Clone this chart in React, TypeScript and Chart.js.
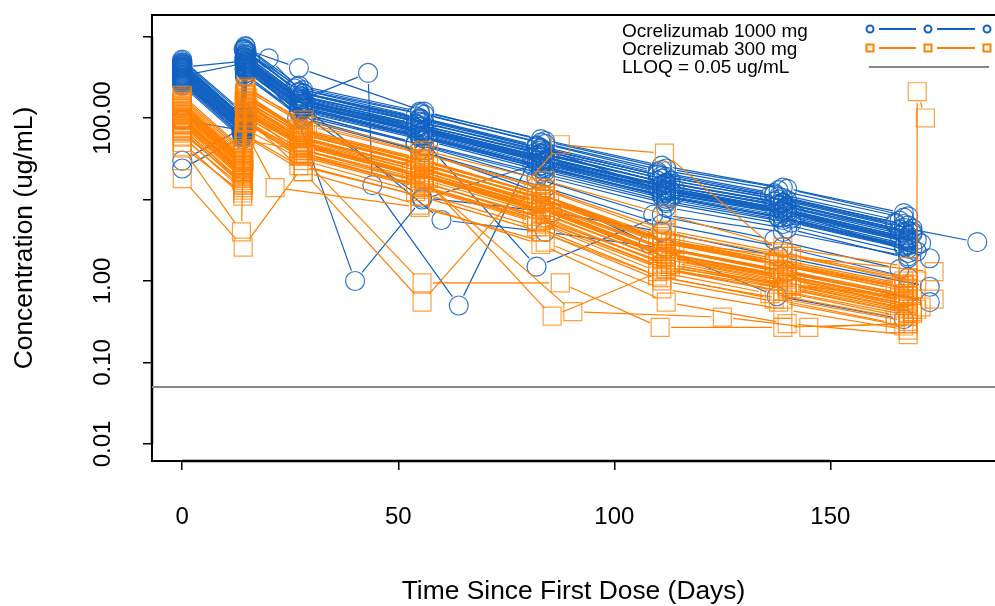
import React, { useEffect, useRef } from 'react';
import { Chart, registerables } from 'chart.js';

Chart.register(...registerables);

type Pt = [number, number]; // [day, concentration ug/mL]

// Ocrelizumab 1000 mg – individual subject profiles
const dose1000Subjects: Pt[][] = [
  [[0, 420], [13.8, 95], [14.6, 600], [27, 190], [55, 90], [83, 40], [111, 18], [138, 10], [167, 4.5], [184, 3.0]],
  [[0, 350], [14, 80], [14.8, 480], [28, 150], [54, 70], [82, 30], [112, 13], [139, 7.5], [168, 3.2]],
  [[0, 480], [13.5, 110], [14.2, 700], [26, 230], [56, 110], [84, 48], [110, 22], [137, 12], [166, 5.5]],
  [[0, 300], [14.2, 70], [15, 420], [28, 130], [55, 60], [81, 26], [113, 11], [140, 6.2], [168, 2.8]],
  [[0, 390], [14, 88], [14.5, 540], [27.5, 170], [53, 80], [83, 34], [111, 15], [138, 8.5], [169, 3.8]],
  [[0, 270], [13.9, 62], [14.7, 380], [29, 115], [57, 52], [84, 22], [112, 9.5], [141, 5.2], [170, 2.3]],
  [[0, 450], [14.1, 100], [14.9, 650], [27, 210], [55, 100], [82, 44], [110, 20], [136, 11], [165, 5]],
  [[0, 330], [14, 75], [14.3, 500], [28.5, 155], [56, 72], [85, 31], [114, 13.5], [140, 7.6], [168, 3.4]],
  [[0, 410], [14, 92], [14.6, 560], [27, 175], [54, 85], [83, 37], [112, 16], [139, 9], [167, 4]],
  [[0, 360], [14.3, 85], [15.2, 470], [28, 145], [55, 66], [82, 28], [111, 12], [138, 6.8], [168, 3]],
  [[0, 290], [13.7, 68], [14.4, 400], [27, 125], [56, 56], [84, 24], [113, 10.5], [141, 5.8], [169, 2.5]],
  [[0, 440], [14, 98], [14.8, 620], [28, 200], [55, 95], [83, 42], [112, 19], [139, 10.5], [168, 4.8]],
  [[0, 370], [14.2, 82], [14.6, 510], [27.5, 160], [54, 76], [81, 33], [110, 14], [137, 8], [166, 3.6]],
  [[0, 320], [14, 72], [14.5, 450], [28, 140], [57, 64], [85, 27], [114, 11.5], [142, 6.4], [171, 2.9]],
  [[0, 500], [13.9, 115], [14.7, 740], [26.5, 240], [55, 115], [83, 50], [111, 23], [138, 13], [167, 6]],
  [[0, 340], [14.1, 78], [14.9, 490], [28, 150], [56, 68], [84, 29], [112, 12.5], [140, 7], [168, 3.1]],
  [[0, 400], [14, 90], [14.4, 550], [27, 168], [55, 78], [82, 35], [111, 15], [138, 8.8], [167, 3.9]],
  [[0, 280], [14, 65], [15.1, 360], [28.5, 110], [54, 50], [83, 21], [112, 9], [139, 5], [168, 2.2]],
  [[0, 430], [14.2, 96], [14.6, 590], [27.5, 185], [55, 88], [84, 39], [113, 17], [140, 9.8], [169, 4.4]],
  [[0, 310], [13.8, 70], [14.5, 440], [28, 135], [56, 62], [83, 26], [111, 11], [138, 6.1], [167, 2.7]],
  [[0, 380], [14, 86], [14.8, 530], [27, 165], [55, 82], [83, 36], [112, 16], [139, 9.2], [168, 4.1]],
  [[0, 460], [14.1, 105], [14.3, 680], [28, 220], [54, 105], [82, 46], [110, 21], [137, 11.5], [165, 5.2]],
  [[0, 30], [14, 75], [14.5, 480], [28, 150], [55, 70], [83, 30], [112, 13], [140, 7], [168, 3.3]],
  [[0, 24], [14.2, 60], [15, 400], [27, 130], [56, 60], [84, 25], [111, 11], [138, 6], [167, 2.6]],
  [[0, 420], [14.6, 500], [28, 160], [55, 78], [83, 33], [112, 15], [140, 8], [168, 3.6]],
  [[0, 330], [20, 540], [28, 200], [56, 88], [84, 37], [112, 16], [139, 9], [169, 4]],
  [[0, 380], [14, 85], [14.7, 520], [26.6, 100], [40, 1.0], [55.5, 10], [83, 28], [112, 12], [139, 7], [168, 3]],
  [[0, 400], [14, 90], [14.5, 560], [28, 170], [43, 357], [44, 15], [64, 0.5], [82, 45], [111, 13], [139, 7.2], [168, 3.2]],
  [[0, 310], [14, 72], [14.6, 430], [28, 135], [55, 60], [82, 1.5], [111, 6.5], [139, 4], [168, 2]],
  [[0, 280], [14, 60], [14.5, 350], [28, 100], [55, 40], [83, 12], [108, 2.9], [137.6, 0.65], [167, 0.34]],
  [[0, 300], [14, 68], [14.6, 400], [27, 120], [55.5, 10.5], [85.6, 7], [111, 4], [138, 2], [173, 0.85]],
  [[0, 340], [14, 75], [14.8, 450], [28, 140], [60, 5.6], [84, 4], [112, 2.5], [140, 1.3], [173, 0.55]],
  [[0, 260], [14, 58], [14.6, 330], [28, 95], [56, 38], [84, 14], [111, 5], [139, 2.6], [168, 1.1]],
  [[0, 300], [14.2, 66], [14.8, 390], [27, 118], [54, 48], [82, 18], [109, 6.5], [137, 3.2], [166, 1.4]],
  [[0, 450], [14, 100], [14.5, 700], [27, 410], [56, 120], [84, 52], [112, 24], [140, 13.5], [168, 6.2]],
  [[0, 95], [14, 70], [14.6, 420], [28, 130], [55, 60], [83, 26], [112, 11], [139, 6], [168, 2.7]],
  [[0, 360], [14, 82], [14.7, 470], [27, 150], [55, 72], [84, 31], [112, 14], [138, 7.8], [173, 1.9]],
  [[0, 520], [14, 120], [14.6, 760], [27, 250], [55, 120], [83, 55], [111, 26], [139, 14], [167, 6.8]],
  [[0, 250], [14, 55], [14.5, 320], [28, 105], [56, 46], [84, 19], [112, 8], [140, 4.4], [168, 1.9]],
  [[0, 410], [14, 88], [14.8, 580], [27.5, 180], [54, 84], [82, 38], [110, 17], [137, 9.5], [166, 4.3]],
  [[0, 330], [14, 76], [14.5, 470], [28, 150], [56, 70], [84, 30], [113, 12.8], [141, 7.2], [170, 3.2]],
  [[0, 470], [14, 104], [14.6, 660], [27, 205], [55, 98], [83, 43], [111, 19.5], [138, 10.8], [167, 5.0]],
  [[0, 290], [14, 66], [14.7, 410], [28, 128], [55, 58], [83, 24], [112, 10.2], [139, 5.6], [168, 2.5]],
];

// Ocrelizumab 300 mg – individual subject profiles
const dose300Subjects: Pt[][] = [
  [[0, 120], [14, 26], [14.6, 150], [27, 58], [55, 24], [82, 9], [111, 2.5], [138, 1.3], [167, 0.65]],
  [[0, 95], [13.8, 22], [14.4, 120], [28, 48], [54, 20], [83, 7.5], [112, 2], [139, 1.1], [168, 0.55]],
  [[0, 150], [14.1, 32], [14.8, 190], [27.5, 70], [56, 30], [84, 11], [110, 3.2], [137, 1.7], [166, 0.85]],
  [[0, 80], [14, 18], [15, 100], [28, 40], [55, 17], [81, 6.2], [113, 1.6], [140, 0.85], [169, 0.42]],
  [[0, 110], [14.2, 24], [14.5, 135], [27, 52], [53, 22], [83, 8.2], [111, 2.2], [138, 1.2], [168, 0.6]],
  [[0, 170], [13.9, 38], [14.7, 220], [29, 80], [57, 35], [84, 13], [112, 3.8], [141, 2], [170, 1]],
  [[0, 65], [14.1, 16], [14.9, 85], [27, 34], [55, 14], [82, 5.2], [110, 1.3], [136, 0.7], [165, 0.36]],
  [[0, 130], [14, 28], [14.3, 160], [28.5, 62], [56, 26], [85, 10], [114, 2.8], [140, 1.5], [168, 0.75]],
  [[0, 100], [14, 23], [14.6, 125], [27, 50], [54, 21], [83, 7.8], [112, 2.1], [139, 1.15], [167, 0.58]],
  [[0, 140], [14.3, 30], [15.2, 175], [28, 65], [55, 28], [82, 10.5], [111, 3], [138, 1.6], [168, 0.8]],
  [[0, 75], [13.7, 17], [14.4, 95], [27, 38], [56, 16], [84, 5.8], [113, 1.5], [141, 0.8], [169, 0.4]],
  [[0, 190], [14, 42], [14.8, 240], [28, 88], [55, 38], [83, 14], [112, 4.2], [139, 2.2], [168, 1.1]],
  [[0, 115], [14.2, 25], [14.6, 140], [27.5, 55], [54, 23], [81, 8.6], [110, 2.3], [137, 1.25], [166, 0.62]],
  [[0, 88], [14, 20], [14.5, 110], [28, 44], [57, 18], [85, 6.8], [114, 1.8], [142, 0.95], [171, 0.48]],
  [[0, 125], [13.9, 27], [14.7, 155], [26.5, 60], [55, 25], [83, 9.5], [111, 2.6], [138, 1.4], [167, 0.7]],
  [[0, 105], [14.1, 22], [14.9, 130], [28, 51], [56, 21.5], [84, 8], [112, 2.15], [140, 1.15], [168, 0.57]],
  [[0, 160], [14, 35], [14.4, 200], [27, 75], [55, 32], [82, 12], [111, 3.5], [138, 1.85], [167, 0.92]],
  [[0, 70], [14, 15], [15.1, 90], [28.5, 36], [54, 15], [83, 5.5], [112, 1.4], [139, 0.75], [168, 0.38]],
  [[0, 135], [14.2, 29], [14.6, 165], [27.5, 63], [55, 27], [84, 10], [113, 2.9], [140, 1.55], [169, 0.78]],
  [[0, 92], [13.8, 21], [14.5, 115], [28, 46], [56, 19], [83, 7], [111, 1.9], [138, 1], [167, 0.5]],
  [[0, 118], [14, 26], [14.8, 145], [27, 57], [55, 24], [83, 9], [112, 2.45], [139, 1.3], [168, 0.65]],
  [[0, 58], [14.1, 14], [14.3, 75], [28, 30], [54, 12.5], [82, 4.6], [110, 1.15], [137, 0.6], [165, 0.3]],
  [[0, 145], [14, 31], [14.5, 180], [28, 68], [56, 29], [84, 11], [112, 3.1], [140, 1.65], [168, 0.82]],
  [[0, 45], [14, 12], [14.6, 62], [27, 26], [55, 11], [83, 4], [111, 1], [138, 0.55], [167, 0.28]],
  [[0, 43], [13.7, 4.0], [14.2, 54], [28, 40], [56, 16], [84, 6], [112, 1.6], [140, 0.9], [168, 0.45]],
  [[0, 18], [14.1, 2.6], [28, 26], [55, 11], [83, 4], [111, 1.1], [139, 0.6], [168, 0.32]],
  [[0, 100], [14, 23], [14.6, 125], [27.5, 34], [55.5, 0.95], [87.5, 0.95], [110.6, 0.27], [139, 0.27], [168, 0.3]],
  [[0, 85], [14, 19], [14.5, 105], [28, 22], [55.5, 0.55], [87.5, 47], [111.6, 37], [138, 2.3], [167, 1.0]],
  [[0, 110], [14, 24], [14.5, 130], [28, 50], [56, 18], [85.6, 0.37], [112, 1.4], [140, 0.8], [168, 0.4]],
  [[0, 95], [14, 21], [14.5, 115], [28, 45], [55, 19], [90.4, 0.42], [125, 0.36], [145, 0.27], [168, 0.3]],
  [[0, 100], [14, 22], [14.5, 120], [28, 46], [55, 20], [83, 7.5], [112, 2], [140, 1.1], [170, 0.45], [170.1, 210], [172, 100]],
  [[0, 60], [14, 13], [14.5, 70], [21.5, 14], [55, 8], [84, 3], [111, 0.8], [139, 0.45], [168, 0.25]],
  [[0, 130], [14, 29], [14.6, 160], [28, 62], [56, 27], [84, 10], [112, 3], [140, 2], [174, 1.3]],
  [[0, 75], [14, 16], [14.5, 90], [27, 36], [55, 15], [83, 5.6], [111, 1.5], [140, 0.9], [174, 0.6]],
  [[0, 180], [14, 40], [14.6, 230], [28, 95], [56, 40], [84, 17], [112, 6.5], [139, 2.6], [168, 1.5]],
  [[0, 50], [14, 11], [14.5, 60], [28, 22], [55, 8.5], [83, 2.8], [112, 0.55], [140, 0.3], [168, 0.22]],
  [[0, 155], [14, 33], [14.6, 195], [27, 72], [55, 31], [83, 11.5], [111, 3.3], [138, 1.75], [167, 0.88]],
  [[0, 98], [14, 22], [14.5, 122], [28, 47], [56, 20], [84, 7.3], [112, 1.95], [140, 1.05], [168, 0.52]],
  [[0, 68], [14, 15], [14.7, 88], [27.5, 35], [55, 14.5], [82, 5.4], [111, 1.4], [138, 0.75], [166, 0.37]],
  [[0, 122], [14, 27], [14.5, 150], [28, 58], [54, 25], [83, 9.2], [112, 2.5], [139, 1.35], [168, 0.67]],
  [[0, 84], [14, 19], [14.6, 105], [27, 42], [56, 17.5], [84, 6.5], [113, 1.7], [141, 0.9], [169, 0.45]],
  [[0, 140], [14, 30], [14.8, 172], [28, 66], [55, 28], [82, 10.5], [110, 3], [137, 1.6], [165, 0.8]],
];

const lloqValue = 0.05;
const xTickValues = [0, 50, 100, 150];
const yTickValues = [0.01, 0.1, 1, 10, 100, 1000];
const yTickLabels = ['0.01', '0.10', '1.00', '', '100.00', ''];
const legendLabels = ['Ocrelizumab 1000 mg', 'Ocrelizumab 300 mg', 'LLOQ = 0.05 ug/mL'];
const xTitle = 'Time Since First Dose (Days)';
const yTitle = 'Concentration (ug/mL)';

const X_MIN = -7.0;
const X_MAX = 188.1;
const Y_MIN = 0.00618;
const Y_MAX = 1835;

const FONT = '"Liberation Sans", Arial, Helvetica, sans-serif';
const BLUE = 'rgb(18, 98, 194)';
const BLUE_MARK = 'rgba(18, 98, 194, 0.85)';
const ORANGE = 'rgb(255, 128, 0)';
const ORANGE_MARK = 'rgba(255, 128, 0, 0.75)';
const GREY = 'rgb(135, 135, 135)';
const GAP = 11;

const gapLinePlugin = {
  id: 'gapLines',
  beforeDatasetDraw(chart: any, args: any) {
    const ds = chart.data.datasets[args.index];
    if (!ds.gapLine) return;
    const pts = args.meta.data;
    const ctx = chart.ctx;
    const ca = chart.chartArea;
    ctx.save();
    ctx.beginPath();
    ctx.rect(ca.left, ca.top, ca.right - ca.left, ca.bottom - ca.top);
    ctx.clip();
    ctx.strokeStyle = ds.lineColor;
    ctx.lineWidth = 1.2;
    ctx.beginPath();
    for (let i = 1; i < pts.length; i++) {
      const a = pts[i - 1];
      const b = pts[i];
      const dx = b.x - a.x;
      const dy = b.y - a.y;
      const len = Math.hypot(dx, dy);
      if (len <= 2 * GAP) continue;
      const ux = dx / len;
      const uy = dy / len;
      ctx.moveTo(a.x + ux * GAP, a.y + uy * GAP);
      ctx.lineTo(b.x - ux * GAP, b.y - uy * GAP);
    }
    ctx.stroke();
    ctx.restore();
  },
};

const framePlugin = {
  id: 'frame',
  beforeDatasetsDraw(chart: any) {
    const { ctx, chartArea: ca } = chart;
    const xs = chart.scales.x;
    const ys = chart.scales.y;
    ctx.save();
    ctx.strokeStyle = '#000';
    ctx.lineWidth = 2;
    ctx.strokeRect(ca.left, ca.top, ca.right - ca.left + 10, ca.bottom - ca.top);
    // R-style axis lines spanning first..last tick
    ctx.lineWidth = 2.5;
    ctx.beginPath();
    ctx.moveTo(xs.getPixelForValue(xTickValues[0]), ca.bottom);
    ctx.lineTo(xs.getPixelForValue(xTickValues[xTickValues.length - 1]), ca.bottom);
    ctx.moveTo(ca.left, ys.getPixelForValue(yTickValues[0]));
    ctx.lineTo(ca.left, ys.getPixelForValue(yTickValues[yTickValues.length - 1]));
    ctx.stroke();
    ctx.restore();
  },
  afterDraw(chart: any) {
    const { ctx, chartArea: ca } = chart;
    const ys = chart.scales.y;
    ctx.save();
    // y tick labels (rotated, R style)
    ctx.fillStyle = '#000';
    ctx.font = `24px ${FONT}`;
    ctx.textAlign = 'center';
    ctx.textBaseline = 'middle';
    yTickValues.forEach((v, i) => {
      const label = yTickLabels[i];
      if (!label) return;
      const py = ys.getPixelForValue(v);
      ctx.save();
      ctx.translate(ca.left - 49, py);
      ctx.rotate(-Math.PI / 2);
      ctx.fillText(label, 0, 0);
      ctx.restore();
    });

    // legend
    const tx = ca.right - 373;
    const rowY = [ca.top + 17, ca.top + 35, ca.top + 53];
    ctx.font = `19px ${FONT}`;
    ctx.textAlign = 'left';
    legendLabels.forEach((t, i) => ctx.fillText(t, tx, rowY[i]));
    const sx = [ca.right - 125, ca.right - 67, ca.right - 8];
    const symY = [ca.top + 14, ca.top + 33];
    const cols = [BLUE, ORANGE];
    ctx.lineWidth = 2;
    for (let r = 0; r < 2; r++) {
      ctx.strokeStyle = cols[r];
      const y = symY[r];
      ctx.beginPath();
      for (let k = 0; k < 2; k++) {
        ctx.moveTo(sx[k] + 9, y);
        ctx.lineTo(sx[k + 1] - 12, y);
      }
      ctx.stroke();
      sx.forEach((x) => {
        ctx.beginPath();
        if (r === 0) ctx.arc(x, y, 3.5, 0, Math.PI * 2);
        else ctx.rect(x - 3.5, y - 3.5, 7, 7);
        ctx.stroke();
      });
    }
    ctx.strokeStyle = GREY;
    ctx.beginPath();
    ctx.moveTo(ca.right - 126, ca.top + 52);
    ctx.lineTo(ca.right - 6, ca.top + 52);
    ctx.stroke();
    ctx.restore();
  },
};

function subjectDataset(subject: Pt[], color: string, markColor: string, style: string, radius: number) {
  return {
    data: subject.map(([x, y]) => ({ x, y })),
    showLine: false,
    gapLine: true,
    lineColor: color,
    pointStyle: style,
    pointRadius: radius,
    pointBorderWidth: 1.2,
    pointBorderColor: markColor,
    pointBackgroundColor: 'rgba(0,0,0,0)',
    pointHoverRadius: radius,
  } as any;
}

export default function App() {
  const canvasRef = useRef<HTMLCanvasElement | null>(null);

  useEffect(() => {
    if (!canvasRef.current) return;
    const datasets: any[] = [];
    dose300Subjects.forEach((s) => datasets.push(subjectDataset(s, ORANGE, ORANGE_MARK, 'rect', 12.7)));
    dose1000Subjects.forEach((s) => datasets.push(subjectDataset(s, BLUE, BLUE_MARK, 'circle', 9.5)));
    datasets.push({
      data: [{ x: X_MIN, y: lloqValue }, { x: X_MAX, y: lloqValue }],
      showLine: true,
      borderColor: GREY,
      borderWidth: 2,
      pointRadius: 0,
      pointHoverRadius: 0,
    });

    const chart = new Chart(canvasRef.current, {
      type: 'scatter',
      data: { datasets },
      options: {
        responsive: false,
        devicePixelRatio: 1,
        animation: false,
        events: [],
        layout: { autoPadding: false, padding: { top: 15, right: 0, bottom: 0, left: 0 } },
        plugins: { legend: { display: false }, tooltip: { enabled: false } },
        scales: {
          x: {
            type: 'linear',
            min: X_MIN,
            max: X_MAX,
            afterBuildTicks: (s: any) => {
              s.ticks = xTickValues.map((v) => ({ value: v }));
            },
            ticks: {
              autoSkip: false,
              maxRotation: 0,
              padding: 33,
              color: '#000',
              font: { size: 24, family: FONT },
              callback: (v: any) => String(v),
            },
            grid: { display: true, drawOnChartArea: false, drawTicks: true, tickLength: 9, color: '#000', lineWidth: 1.5 },
            border: { display: false },
            title: {
              display: true,
              text: xTitle,
              color: '#000',
              font: { size: 26.4, family: FONT },
              padding: { top: 11.3, bottom: -1.8 },
            },
          },
          y: {
            type: 'logarithmic',
            min: Y_MIN,
            max: Y_MAX,
            afterBuildTicks: (s: any) => {
              s.ticks = yTickValues.map((v) => ({ value: v }));
            },
            ticks: { display: false },
            grid: { display: true, drawOnChartArea: false, drawTicks: true, tickLength: 9, color: '#000', lineWidth: 1.5 },
            border: { display: false },
            title: {
              display: true,
              text: yTitle,
              color: '#000',
              font: { size: 26.4, family: FONT },
              padding: { top: 8.7, bottom: 102.6 },
            },
          },
        },
      } as any,
      plugins: [gapLinePlugin, framePlugin],
    });
    return () => chart.destroy();
  }, []);

  return (
    <div style={{ position: 'absolute', left: 0, top: 0, width: 995, height: 606, background: '#fff' }}>
      <canvas ref={canvasRef} width={995} height={606} style={{ display: 'block' }} />
    </div>
  );
}
